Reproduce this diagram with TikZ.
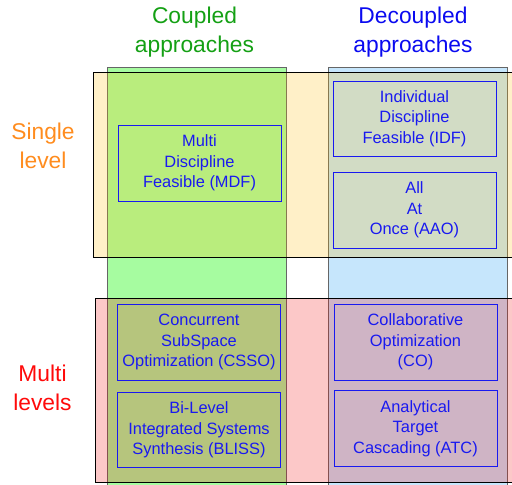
\documentclass[tikz,border=0pt]{standalone}
\usepackage{fontspec}
\setmainfont{Liberation Sans}
\usepackage{tikz}
\definecolor{coupledfill}{RGB}{166,252,160}
\definecolor{decoupledfill}{RGB}{198,230,252}
\definecolor{singlefill}{RGB}{255,186,5}
\definecolor{multifill}{RGB}{241,5,5}
\definecolor{coupledtext}{RGB}{20,160,20}
\definecolor{decoupledtext}{RGB}{10,10,240}
\definecolor{singletext}{RGB}{255,140,30}
\definecolor{multitext}{RGB}{255,10,10}
\definecolor{methodblue}{RGB}{25,25,240}
\tikzstyle{column} = [rectangle, 
draw=black!60, 
line width=0.8pt, 
minimum width=179pt, 
minimum height=423pt]
\tikzstyle{band} = [rectangle, 
draw=black, 
line width=0.8pt, 
fill opacity=0.22]
\tikzstyle{method} = [rectangle, 
minimum width=163pt, 
minimum height=76pt, 
text centered, 
align=center, 
draw=methodblue, 
line width=0.8pt, 
text=methodblue, 
font=\fontsize{16.4}{20.5}\selectfont]
\tikzstyle{heading} = [align=center, 
font=\fontsize{22.8}{29}\selectfont]

\begin{document}
\begin{tikzpicture}[x=1pt, y=-1pt, node distance=88pt]
\useasboundingbox (0,0) rectangle (512,485);

\node (coupled) [column, fill=coupledfill] at (196.5,278.5) {};
\node (decoupled) [column, fill=decoupledfill] at (417.5,278.5) {};

\node (single) [band, fill=singlefill, minimum width=427pt, minimum height=185pt] at (306.5,164.5) {};
\node (multi) [band, fill=multifill, minimum width=425pt, minimum height=184pt] at (307.5,390) {};

\node (coupledhead) [heading, text=coupledtext] at (194.5,32.5) {Coupled\\approaches};
\node (decoupledhead) [heading, text=decoupledtext] at (413,32.5) {Decoupled\\approaches};
\node (singlehead) [heading, text=singletext] at (43,146) {Single\\level};
\node (multihead) [heading, text=multitext] at (42.5,388) {Multi\\levels};

\node (mdf) [method] at (199.5,163) {Multi\\Discipline\\Feasible (MDF)};
\node (idf) [method, minimum height=75pt] at (414.5,118.5) {Individual\\Discipline\\Feasible (IDF)};
\node (aao) [method, below of=idf, yshift=-3.5pt] {All\\At\\Once (AAO)};

\node (csso) [method] at (199,342) {Concurrent\\SubSpace\\Optimization (CSSO)};
\node (bliss) [method, minimum height=75pt, below of=csso] {Bi-Level\\Integrated Systems\\Synthesis (BLISS)};
\node (co) [method] at (415.5,342) {Collaborative\\Optimization\\(CO)};
\node (atc) [method, below of=co, yshift=1.5pt] {Analytical\\Target\\Cascading (ATC)};

\end{tikzpicture}
\end{document}
